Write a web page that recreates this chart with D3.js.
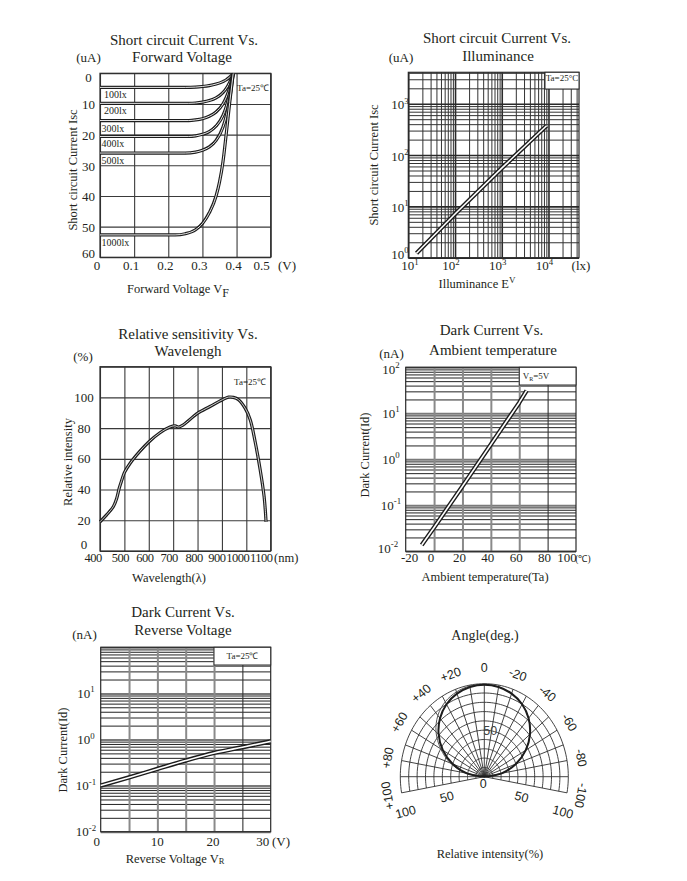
<!DOCTYPE html>
<html><head><meta charset="utf-8">
<script src="https://cdn.jsdelivr.net/npm/d3@7"></script>
<style>
body{margin:0;background:#fff;}
</style></head><body>
<svg id="c" width="687" height="881" xmlns="http://www.w3.org/2000/svg"></svg>
<script>
// ================= DATA =================
// Panel 1: Short circuit current vs forward voltage
const vfTicks = [0, 0.1, 0.2, 0.3, 0.4, 0.5];
const vfTickLabels = ['0', '0.1', '0.2', '0.3', '0.4', '0.5'];
const iscTicks = [0, 10, 20, 30, 40, 50, 60];
const luxLabels = ['100lx', '200lx', '300lx', '400lx', '500lx', '1000lx'];
const isc100lx = [[0,4.6],[0.25,4.6],[0.28,4.5],[0.30,4.3],[0.32,4.0],[0.34,3.5],[0.36,2.7],[0.37,2.1],[0.38,1.2],[0.39,0.2]];
const isc200lx = [[0,9.8],[0.26,9.8],[0.28,9.7],[0.30,9.4],[0.32,8.9],[0.34,8.0],[0.36,6.3],[0.37,4.9],[0.38,2.9],[0.39,0.2]];
const isc300lx = [[0,15.4],[0.26,15.4],[0.28,15.2],[0.30,14.8],[0.32,14.0],[0.34,12.6],[0.36,10.0],[0.37,7.8],[0.38,4.6],[0.39,0.2]];
const isc400lx = [[0,20.6],[0.26,20.6],[0.28,20.4],[0.30,19.9],[0.32,19.0],[0.34,17.2],[0.36,13.8],[0.37,10.8],[0.38,6.3],[0.39,0.2]];
const isc500lx = [[0,26.0],[0.25,26.0],[0.28,25.7],[0.30,25.1],[0.32,24.0],[0.34,21.9],[0.36,17.6],[0.37,13.8],[0.38,8.2],[0.39,0.2]];
const isc1000lx = [[0,52.7],[0.22,52.7],[0.25,52.3],[0.28,51.0],[0.30,49.0],[0.32,45.5],[0.34,40.0],[0.35,35.5],[0.36,29.0],[0.37,19.5],[0.38,9.5],[0.39,0.2]];
const iscCurves = [isc100lx, isc200lx, isc300lx, isc400lx, isc500lx, isc1000lx];

// Panel 2: Short circuit current vs illuminance (log-log)
const luxTicks = [10, 100, 1000, 10000];
const luxTickExp = ['1', '2', '3', '4'];
const iscLogTicks = [1, 10, 100, 1000];
const iscLogExp = ['0', '1', '2', '3'];
const illumLux = [15, 100, 1000, 9100];
const illumIsc = [1.22, 7.1, 55.6, 373];

// Panel 3: Relative sensitivity vs wavelength
const waveTicks = [400, 500, 600, 700, 800, 900, 1000, 1100];
const relTicks = [0, 20, 40, 60, 80, 100];
const wavelength = [400,427,455,468,479,489,500,523,564,600,646,687,708,721,742,783,801,851,902,927,947,968,995,1016,1036,1057,1073,1081];
const relSens = [19,23.5,29,34,41,46,51,57,65,71,77,80.7,81.5,80.7,82.2,87.6,89.8,94.1,98.5,100.2,100,98.5,93,85.4,71.3,52.8,35.4,19];

// Panel 4: Dark current vs ambient temperature
const tempTicks = [-20, 0, 20, 40, 60, 80, 100];
const darkTicks = [0.01, 0.1, 1, 10, 100];
const darkExp = ['-2', '-1', '0', '1', '2'];
const ambientTemp = [-8.7, 0, 20, 40, 60, 65.2];
const darkVsTemp = [0.0137, 0.033, 0.26, 2.1, 17, 31];

// Panel 5: Dark current vs reverse voltage
const vrTicks = [0, 10, 20, 30];
const vrGrid = [5, 10, 15, 20, 25];
const reverseV = [0, 5, 10, 15, 20, 25, 30];
const darkVsVr = [0.1, 0.15, 0.23, 0.35, 0.51, 0.68, 0.91];

// Panel 6: Angular response (polar)
const spokeAngles = [-100,-90,-80,-70,-60,-50,-40,-30,-20,-10,0,10,20,30,40,50,60,70,80,90,100];
const ringLevels = [10,20,30,40,50,60,70,80,90,100];
const angleLabelAngles = [100, 80, 60, 40, 20, 0, -20, -40, -60, -80, -100];
const angleLabels = ['+100', '+80', '+60', '+40', '+20', '0', '-20', '-40', '-60', '-80', '-100'];
const polarAngles = [-90,-80,-70,-60,-50,-40,-30,-20,-10,0,10,20,30,40,50,60,70,80,90];
const polarMain = [0,21,40,57,71,82,90,95,98,99,98,95,90,82,71,57,40,21,0];
const polarAlt  = [0,21,40,57,71,82,90,95,98,99,99,97,93,86,75,60,43,22,0];

// ================= DRAWING =================
const SERIF = '"Liberation Serif","Times New Roman",Times,serif';
const SANS = '"Liberation Sans",Arial,Helvetica,sans-serif';
const INK = '#231f20';
const svg = d3.select('#c');

function txt(g, x, y, s, o = {}) {
  const size = o.size || 13;
  const t = g.append('text').attr('x', x).attr('y', y)
    .attr('font-size', size).attr('text-anchor', o.anchor || 'middle')
    .attr('font-family', o.family || SERIF).attr('fill', o.fill || INK);
  if (o.rotate != null) t.attr('transform', `rotate(${o.rotate},${x},${y})`);
  if (o.dy) t.attr('dy', o.dy);
  if (o.ls != null) t.attr('letter-spacing', o.ls);
  t.text(s);
  return t;
}
function pow10(g, x, y, e, o = {}) {
  const size = o.size || 13;
  const t = txt(g, x, y, '10', o);
  t.append('tspan').attr('font-size', size * 0.68).attr('dy', -size * 0.42).text(e);
  return t;
}
function logTicks(lo, hi) {
  const out = [];
  for (let e = Math.floor(Math.log10(lo)); e <= Math.ceil(Math.log10(hi)); e++) {
    for (let k = 1; k <= 9; k++) {
      const v = k * Math.pow(10, e);
      if (v >= lo * 0.999 && v <= hi * 1.001) out.push(v);
    }
  }
  return out;
}
function isDecade(v) { const l = Math.log10(v); return Math.abs(l - Math.round(l)) < 1e-6; }

function vGrid(g, x, vals, y0, y1, styler) {
  const a = g.append('g').attr('transform', `translate(0,${y1})`)
    .call(d3.axisBottom(x).tickValues(vals).tickSize(-(y1 - y0)).tickFormat(''));
  a.select('.domain').remove();
  a.selectAll('.tick line').each(function(d) {
    const s = styler(d);
    d3.select(this).attr('stroke', s[0]).attr('stroke-width', s[1]);
  });
}
function hGrid(g, y, vals, x0, x1, styler) {
  const a = g.append('g').attr('transform', `translate(${x0},0)`)
    .call(d3.axisLeft(y).tickValues(vals).tickSize(-(x1 - x0)).tickFormat(''));
  a.select('.domain').remove();
  a.selectAll('.tick line').each(function(d) {
    const s = styler(d);
    d3.select(this).attr('stroke', s[0]).attr('stroke-width', s[1]);
  });
}
function frame(g, x0, y0, x1, y1) {
  g.append('rect').attr('x', x0).attr('y', y0).attr('width', x1 - x0).attr('height', y1 - y0)
    .attr('fill', 'none').attr('stroke', '#2b2b2b').attr('stroke-width', 1.2);
}
function dbl(g, d, w1, w2) {
  g.append('path').attr('d', d).attr('fill', 'none').attr('stroke', '#1c1c1c')
    .attr('stroke-width', w1).attr('stroke-linejoin', 'round');
  if (w2 > 0) g.append('path').attr('d', d).attr('fill', 'none').attr('stroke', '#fff')
    .attr('stroke-width', w2).attr('stroke-linejoin', 'round');
}
function noteBox(g, x0, y0, x1, y1) {
  g.append('rect').attr('x', x0).attr('y', y0).attr('width', x1 - x0).attr('height', y1 - y0)
    .attr('fill', '#fff').attr('stroke', '#2b2b2b').attr('stroke-width', 1);
}

// ---------- Panel 1 ----------
{
  const g = svg.append('g');
  const L = 100, R = 270.7, T = 73.3, B = 257.3;
  const x = d3.scaleLinear().domain([0, 0.5]).range([L, R]);
  const y = d3.scaleLinear().domain([0, 60]).range([T, B]);
  vGrid(g, x, vfTicks, T, B, () => ['#3a3a3a', 1.1]);
  hGrid(g, y, iscTicks, L, R, () => ['#3a3a3a', 1.1]);
  frame(g, L, T, R, B);
  const line = d3.line().x(d => x(d[0])).y(d => y(d[1])).curve(d3.curveMonotoneX);
  iscCurves.forEach(c => dbl(g, line(c), 3.2, 0.9));
  iscCurves.forEach((c, i) => txt(g, x(0) + (i < 2 ? 4 : 1.5), y(c[0][1]) + 11, luxLabels[i], {size: 10, anchor: 'start'}));
  txt(g, 253, 90.5, 'Ta=25℃', {size: 9});
  txt(g, 184, 45, 'Short circuit Current Vs.', {size: 15});
  txt(g, 182, 62, 'Forward Voltage', {size: 15});
  txt(g, 88.5, 61.5, '(uA)', {size: 13});
  iscTicks.forEach(v => txt(g, 88.5, Math.min(Math.max(y(v) + 1, 77), 253) + 4.5, String(v), {size: 13}));
  vfTicks.forEach((v, i) => txt(g, x(v) - (i === vfTicks.length - 1 ? 9 : 3), 269.5, vfTickLabels[i], {size: 13}));
  txt(g, 287, 269.5, '(V)', {size: 13});
  const xl = txt(g, 178, 293, 'Forward Voltage V', {size: 12.5});
  xl.append('tspan').attr('dy', 4).attr('font-size', 12).text('F');
  txt(g, 77, 170, 'Short circuit Current Isc', {size: 12.5, rotate: -90});
}

// ---------- Panel 2 ----------
{
  const g = svg.append('g');
  const L = 408.3, R = 579, T = 72.3, B = 257.7;
  const x = d3.scaleLog().domain([10, 45000]).range([L, R]);
  const y = d3.scaleLog().domain([1, 4100]).range([B, T]);
  vGrid(g, x, logTicks(10, 45000), T, B, d => isDecade(d) ? ['#2a2a2a', 1.6] : ['#333', 1]);
  hGrid(g, y, logTicks(1, 4100), L, R, d => isDecade(d) ? ['#2a2a2a', 1.6] : ['#333', 1]);
  frame(g, L, T, R, B);
  const line = d3.line().x((d, i) => x(illumLux[i])).y(d => y(d));
  dbl(g, line(illumIsc), 4.4, 1.6);
  noteBox(g, 545, T, R, 89);
  txt(g, 562, 80.5, 'Ta=25°C', {size: 9});
  txt(g, 497, 42.5, 'Short circuit Current Vs.', {size: 15});
  txt(g, 498, 61, 'Illuminance', {size: 15});
  txt(g, 401, 61.5, '(uA)', {size: 13});
  iscLogTicks.forEach((v, i) => pow10(g, 400, Math.min(Math.max(y(v) + 1, 78), 254) + 4.5, iscLogExp[i], {size: 13, anchor: 'middle'}));
  luxTicks.forEach((v, i) => pow10(g, Math.max(x(v) - 4, 410), 270, luxTickExp[i], {size: 13}));
  txt(g, 581, 270, '(lx)', {size: 13});
  const xl = txt(g, 477, 288, 'Illuminance E', {size: 12.5});
  xl.append('tspan').attr('dy', -5).attr('font-size', 9).text('V');
  txt(g, 378, 165, 'Short circuit Current Isc', {size: 12.5, rotate: -90});
}

// ---------- Panel 3 ----------
{
  const g = svg.append('g');
  const L = 100, R = 270.7, T = 366.7, B = 551;
  const x = d3.scaleLinear().domain([400, 1100]).range([L, R]);
  const y = d3.scaleLinear().domain([0, 120]).range([B, T]);
  vGrid(g, x, waveTicks, T, B, () => ['#3a3a3a', 1.1]);
  hGrid(g, y, relTicks.concat([120]), L, R, () => ['#3a3a3a', 1.1]);
  frame(g, L, T, R, B);
  const line = d3.line().x((d, i) => x(wavelength[i])).y(d => y(d)).curve(d3.curveCatmullRom);
  dbl(g, line(relSens), 3.2, 0.8);
  txt(g, 250, 385, 'Ta=25℃', {size: 9});
  txt(g, 188, 338.5, 'Relative sensitivity Vs.', {size: 15});
  txt(g, 188, 356, 'Wavelengh', {size: 15});
  txt(g, 83, 360.5, '(%)', {size: 13});
  relTicks.forEach(v => txt(g, 84, Math.min(y(v), 544) + 4.5, String(v), {size: 13}));
  const waveOff = {400: -7, 500: -4, 600: -4, 700: -4, 800: -3.5, 900: -5, 1000: -8.5, 1100: -9.5};
  waveTicks.forEach(v => txt(g, x(v) + waveOff[v], 562, String(v), {size: 12.5, ls: -0.5}));
  txt(g, 274, 562, '(nm)', {size: 12.5, anchor: 'start'});
  txt(g, 169, 582, 'Wavelength(λ)', {size: 12.5});
  txt(g, 72, 462, 'Relative intensity', {size: 12.5, rotate: -90});
}

// ---------- Panel 4 ----------
{
  const g = svg.append('g');
  const L = 405.7, R = 576, T = 367.3, B = 551.3;
  const x = d3.scaleLinear().domain([-20, 100]).range([L, R]);
  const y = d3.scaleLog().domain([0.01, 100]).range([B, T]);
  hGrid(g, y, logTicks(0.01, 100), L, R, d => isDecade(d) ? ['#7a7a7a', 2] : ['#222', 1]);
  vGrid(g, x, tempTicks.slice(1, -1), T, B, d => d === 80 ? ['#333', 1.1] : ['#8a8a8a', 2]);
  frame(g, L, T, R, B);
  const line = d3.line().x((d, i) => x(ambientTemp[i])).y(d => y(d));
  dbl(g, line(darkVsTemp), 4.4, 1.6);
  noteBox(g, 519.3, T, R, 385);
  const vr = txt(g, 536, 379, 'V', {size: 9});
  vr.append('tspan').attr('font-size', 6).attr('dy', 1.5).text('R');
  vr.append('tspan').attr('dy', -1.5).text('=5V');
  txt(g, 491.5, 334.5, 'Dark Current Vs.', {size: 15});
  txt(g, 493, 355, 'Ambient temperature', {size: 15});
  txt(g, 391.5, 357.5, '(nA)', {size: 13});
  darkTicks.forEach((v, i) => pow10(g, i === 0 ? 388 : 391, Math.max(Math.min(y(v), 548), 369) + 4.5, darkExp[i], {size: 13}));
  tempTicks.forEach((v, i) => txt(g, x(v) + (i === 0 ? 4 : (i === tempTicks.length - 1 ? -9 : -3)), 561.5, String(v), {size: 13}));
  txt(g, 583, 561.5, '(℃)', {size: 9.5});
  txt(g, 485, 580.5, 'Ambient temperature(Ta)', {size: 12.5});
  txt(g, 369, 455, 'Dark Current(Id)', {size: 12.5, rotate: -90});
}

// ---------- Panel 5 ----------
{
  const g = svg.append('g');
  const L = 100.7, R = 270.7, T = 647.3, B = 831.7;
  const x = d3.scaleLinear().domain([0, 30]).range([L, R]);
  const y = d3.scaleLog().domain([0.01, 100]).range([B, T]);
  hGrid(g, y, logTicks(0.01, 100), L, R, d => isDecade(d) ? ['#7a7a7a', 2] : ['#222', 1]);
  vGrid(g, x, vrGrid, T, B, d => d === 25 ? ['#333', 1.1] : ['#8a8a8a', 2]);
  frame(g, L, T, R, B);
  const line = d3.line().x((d, i) => x(reverseV[i])).y(d => y(d)).curve(d3.curveMonotoneX);
  dbl(g, line(darkVsVr), 4.4, 1.6);
  noteBox(g, 214, T, R, 665);
  txt(g, 242.5, 658.5, 'Ta=25℃', {size: 9});
  txt(g, 183, 617, 'Dark Current Vs.', {size: 15});
  txt(g, 183, 634.5, 'Reverse Voltage', {size: 15});
  txt(g, 84.5, 638.5, '(nA)', {size: 13});
  darkTicks.slice(0, 4).forEach((v, i) => pow10(g, 86, y(v) + 4.5, darkExp[i], {size: 13}));
  vrTicks.forEach((v, i) => txt(g, x(v) + [-4, 0, -1, -8][i], 846, String(v), {size: 13}));
  txt(g, 281, 846, '(V)', {size: 13});
  const xl = txt(g, 175, 862.5, 'Reverse Voltage V', {size: 12.5});
  xl.append('tspan').attr('font-size', 8.5).attr('dy', 1).text('R');
  txt(g, 66.5, 750, 'Dark Current(Id)', {size: 12.5, rotate: -90});
}

// ---------- Panel 6 (polar) ----------
{
  const g = svg.append('g');
  const cx = 484.3, cy = 776.7;
  const rx = d3.scaleLinear().domain([0, 100]).range([0, 84]);
  const ry = d3.scaleLinear().domain([0, 100]).range([0, 93]);
  const pp = (ang, r) => {
    const a = ang * Math.PI / 180;
    return [cx - rx(r) * Math.sin(a), cy - ry(r) * Math.cos(a)];
  };
  const lin = d3.line();
  ringLevels.forEach(r => {
    g.append('path').attr('d', lin(d3.range(-100, 100.01, 2).map(a => pp(a, r))))
      .attr('fill', 'none').attr('stroke', '#2f2f2f').attr('stroke-width', 0.9);
  });
  spokeAngles.forEach(a => {
    g.append('path').attr('d', lin([pp(a, 0), pp(a, 100)]))
      .attr('fill', 'none').attr('stroke', '#2f2f2f').attr('stroke-width', 0.9);
  });
  const pl = d3.line().curve(d3.curveCatmullRom);
  g.append('path').attr('d', pl(polarAngles.map((a, i) => pp(a, polarAlt[i]))))
    .attr('fill', 'none').attr('stroke', '#555').attr('stroke-width', 1);
  g.append('path').attr('d', pl(polarAngles.map((a, i) => pp(a, polarMain[i]))))
    .attr('fill', 'none').attr('stroke', '#1c1c1c').attr('stroke-width', 2);
  angleLabelAngles.forEach((a, i) => {
    const p = pp(a, 117);
    txt(g, p[0], p[1], angleLabels[i], {size: 12.5, family: SANS, rotate: -a, dy: '0.35em'});
  });
  const mid = pp(0, 50);
  txt(g, mid[0] + 6, mid[1], '50', {size: 12.5, family: SANS, dy: '0.35em', fill: '#444'});
  txt(g, cx - 1, cy + 7, '0', {size: 12.5, family: SANS, dy: '0.35em'});
  [[50, 12], [100, 19]].forEach(([r, off]) => {
    const pL = pp(100, r), pR = pp(-100, r);
    txt(g, pL[0] + 4, pL[1] + off, String(r), {size: 12.5, family: SANS, dy: '0.35em', rotate: -15});
    txt(g, pR[0] - 4, pR[1] + off, String(r), {size: 12.5, family: SANS, dy: '0.35em', rotate: 15});
  });
  txt(g, 485, 639.5, 'Angle(deg.)', {size: 14});
  txt(g, 490, 857.5, 'Relative intensity(%)', {size: 12.5});
}
</script>
</body></html>
